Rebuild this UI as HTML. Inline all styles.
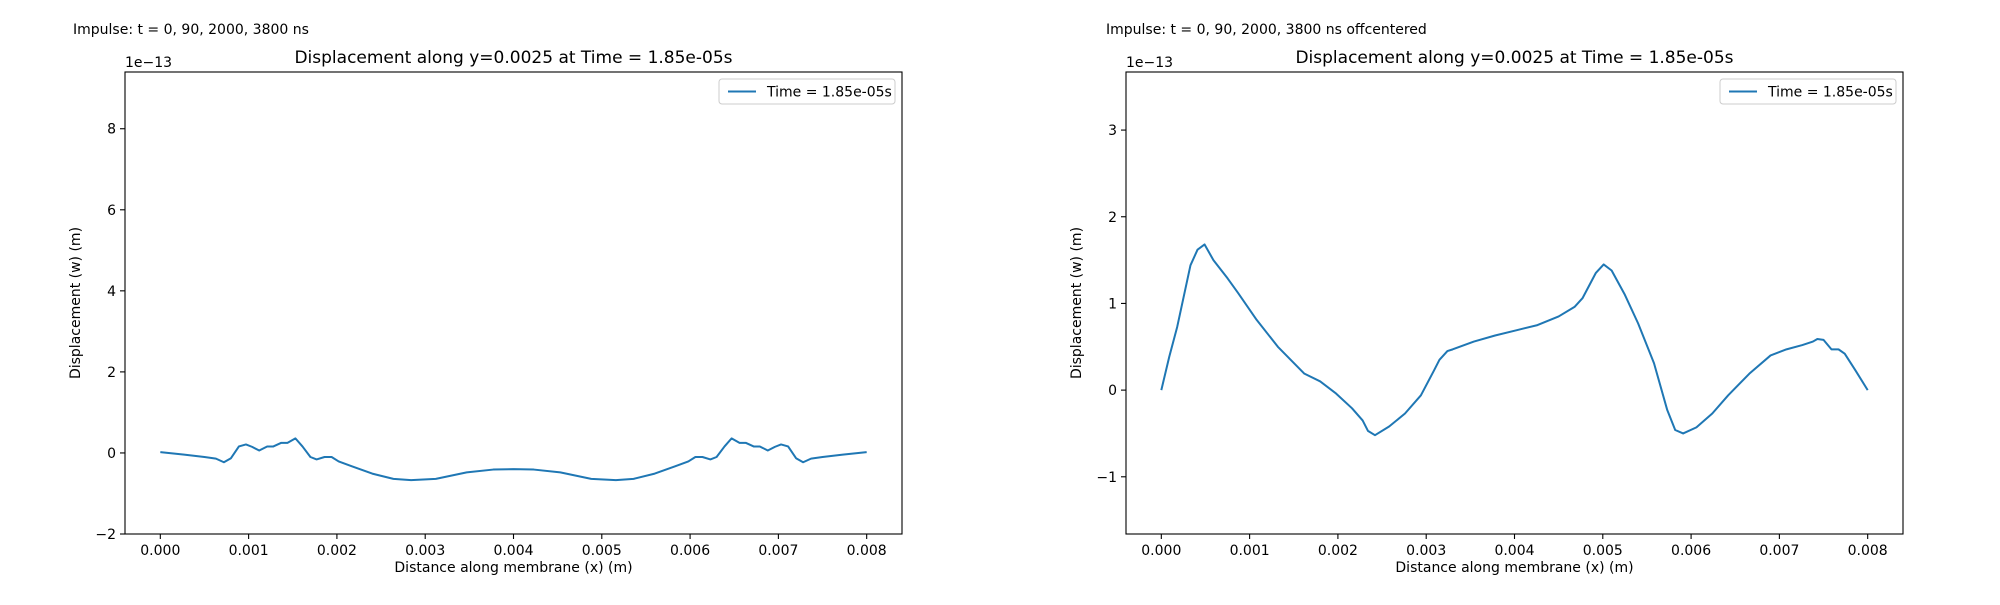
<!DOCTYPE html>
<html><head><meta charset="utf-8"><style>
body{margin:0;background:#fff;width:2000px;height:600px;overflow:hidden}
svg text{font-family:"DejaVu Sans","Liberation Sans",sans-serif;fill:#000}
</style></head><body>
<svg id="fig" width="2000" height="600" xmlns="http://www.w3.org/2000/svg"></svg>
<script>
const xTicks=[0,0.001,0.002,0.003,0.004,0.005,0.006,0.007,0.008];
const xTickLabels=["0.000","0.001","0.002","0.003","0.004","0.005","0.006","0.007","0.008"];
const leftYTicks=[-2,0,2,4,6,8];
const rightYTicks=[-1,0,1,2,3];
const leftX=[0,0.00027,0.0005,0.00063,0.00072,0.0008,0.00089,0.00097,0.00104,0.00112,0.00121,0.00128,0.00137,0.00144,0.00153,0.00161,0.0017,0.00177,0.00186,0.00194,0.00202,0.00217,0.0024,0.00264,0.00284,0.00312,0.00347,0.00377,0.004,0.00423,0.00453,0.00488,0.00516,0.00536,0.0056,0.00583,0.00598,0.00606,0.00614,0.00623,0.0063,0.00639,0.00647,0.00656,0.00663,0.00672,0.00679,0.00688,0.00696,0.00703,0.00711,0.0072,0.00728,0.00737,0.0075,0.00773,0.008];
const leftY=[0.02,-0.04,-0.1,-0.14,-0.23,-0.13,0.16,0.21,0.15,0.06,0.16,0.16,0.25,0.25,0.36,0.16,-0.1,-0.16,-0.1,-0.1,-0.21,-0.33,-0.51,-0.64,-0.67,-0.64,-0.48,-0.41,-0.4,-0.41,-0.48,-0.64,-0.67,-0.64,-0.51,-0.33,-0.21,-0.1,-0.1,-0.16,-0.1,0.16,0.36,0.25,0.25,0.16,0.16,0.06,0.15,0.21,0.16,-0.13,-0.23,-0.14,-0.1,-0.04,0.02];
const rightX=[0,0.00009,0.00018,0.00033,0.00041,0.00049,0.00059,0.00075,0.00087,0.00108,0.00132,0.00162,0.0018,0.00198,0.00216,0.00228,0.00234,0.00242,0.00258,0.00276,0.00294,0.00309,0.00315,0.00324,0.0033,0.00354,0.00378,0.00402,0.00426,0.0045,0.00468,0.00477,0.00492,0.00501,0.0051,0.00525,0.0054,0.00558,0.00573,0.00582,0.00591,0.00606,0.00624,0.00642,0.00666,0.0069,0.00708,0.00726,0.00738,0.00743,0.0075,0.00759,0.00767,0.00774,0.00786,0.008];
const rightY=[0,0.385,0.73,1.44,1.62,1.68,1.5,1.29,1.12,0.81,0.5,0.19,0.1,-0.04,-0.21,-0.35,-0.47,-0.52,-0.42,-0.27,-0.06,0.23,0.35,0.45,0.47,0.56,0.63,0.69,0.75,0.85,0.96,1.06,1.35,1.45,1.38,1.1,0.77,0.31,-0.23,-0.46,-0.5,-0.43,-0.27,-0.06,0.19,0.4,0.47,0.52,0.56,0.59,0.58,0.47,0.47,0.42,0.23,0];

const NS="http://www.w3.org/2000/svg";
const svg=document.getElementById('fig');
function mk(tag,attrs,parent,txt){const e=document.createElementNS(NS,tag);for(const k in attrs)e.setAttribute(k,attrs[k]);if(txt!==undefined)e.textContent=txt;(parent||svg).appendChild(e);return e;}

function plot(p){
  const g=mk('g',{});
  
  
  const L=p.left,R=p.right,T=72,B=534;
  const xmin=-0.0004,xmax=0.0084;
  const sx=v=>L+(v-xmin)/(xmax-xmin)*(R-L);
  const sy=v=>B-(v-p.ymin)/(p.ymax-p.ymin)*(B-T);
  const sup=mk('text',{x:p.supX,y:34,'font-size':14,'font-family':'Liberation Sans, sans-serif'},g,p.sup);
  
  
  const t=mk('text',{x:(L+R)/2,y:63,'font-size':17,'text-anchor':'middle'},g,'Displacement along y=0.0025 at Time = 1.85e-05s');
  
  
  const off=mk('text',{x:L,y:67,'font-size':14},g,'1e\u221213');
  
  
  // series
  let d='';
  for(let i=0;i<p.xs.length;i++){d+=(i?'L':'M')+sx(p.xs[i]).toFixed(2)+','+sy(p.ys[i]).toFixed(2);}
  const ln=mk('path',{d:d,fill:'none',stroke:'#1f77b4','stroke-width':2,'stroke-linejoin':'round'},g);
  
  
  const fr=mk('rect',{x:L,y:T,width:R-L,height:B-T,fill:'none',stroke:'#000','stroke-width':1.1},g);
  
  
  xTicks.forEach((v,i)=>{
    const x=sx(v);
    mk('line',{x1:x,y1:B,x2:x,y2:B+5,stroke:'#000','stroke-width':1.1},g);
    const tl=mk('text',{x:x,y:B+21,'font-size':14,'text-anchor':'middle'},g,xTickLabels[i]);
    
    
  });
  p.yt.forEach(v=>{
    const y=sy(v);
    mk('line',{x1:L-5,y1:y,x2:L,y2:y,stroke:'#000','stroke-width':1.1},g);
    const tl=mk('text',{x:L-9,y:y+5,'font-size':14,'text-anchor':'end'},g,v<0?'\u2212'+(-v):String(v));
    
    
  });
  const xl=mk('text',{x:(L+R)/2,y:572,'font-size':14,'text-anchor':'middle'},g,'Distance along membrane (x) (m)');
  
  
  const yl=mk('text',{x:0,y:0,'font-size':14,'text-anchor':'middle',transform:'translate('+(p.left-45)+','+((T+B)/2)+') rotate(-90)'},g,'Displacement (w) (m)');
  
  
  const lg=mk('g',{},g);
  
  
  mk('rect',{x:R-183,y:79,width:176,height:25,rx:3,fill:'#fff',stroke:'#ccc','stroke-width':1},lg);
  mk('line',{x1:R-174,y1:91.5,x2:R-146,y2:91.5,stroke:'#1f77b4','stroke-width':2},lg);
  mk('text',{x:R-135,y:96.5,'font-size':14},lg,'Time = 1.85e-05s');
}
plot({prefix:'left',left:125,right:902,ymin:-2,ymax:9.4,yt:leftYTicks,xs:leftX,ys:leftY,supX:73,sup:'Impulse: t = 0, 90, 2000, 3800 ns'});
plot({prefix:'right',left:1126,right:1903,ymin:-1.66,ymax:3.67,yt:rightYTicks,xs:rightX,ys:rightY,supX:1106,sup:'Impulse: t = 0, 90, 2000, 3800 ns offcentered'});
</script>
</body></html>
